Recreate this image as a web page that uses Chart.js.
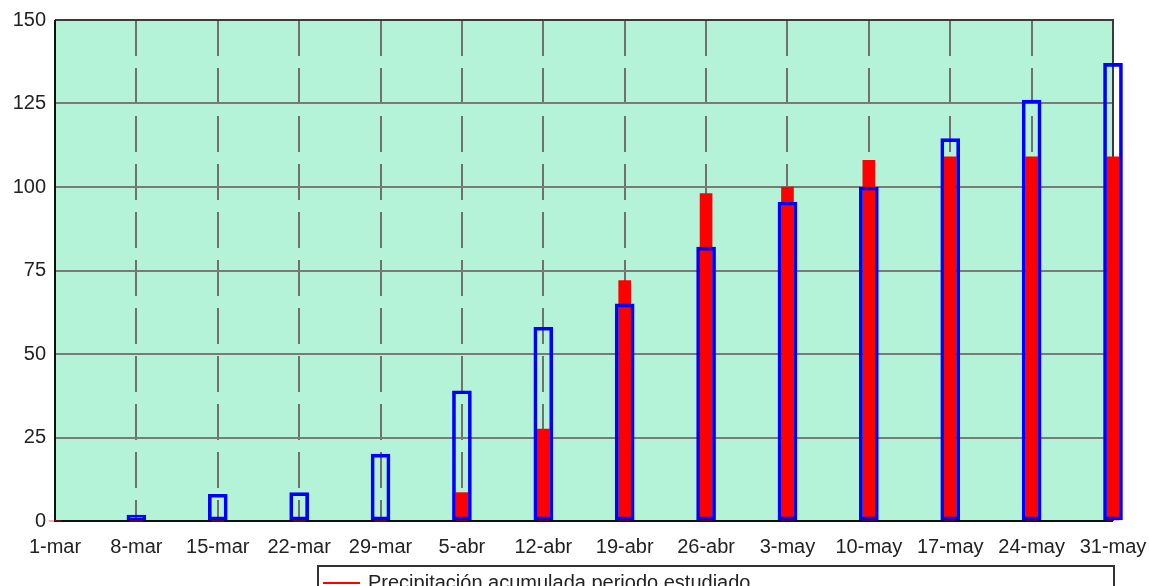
<!DOCTYPE html>
<html>
<head>
<meta charset="utf-8">
<script src="https://cdn.jsdelivr.net/npm/chart.js@4/dist/chart.umd.min.js"></script>
<style>
  body { margin: 0; background: #fff; overflow: hidden; }
  #wrap { position: relative; width: 1149px; height: 586px; overflow: hidden; }
  #legend {
    position: absolute; left: 317px; top: 565px; width: 794px; height: 60px;
    border: 2px solid #333; font-family: "Liberation Sans", Arial, sans-serif;
    font-size: 20px; color: #222;
  }
  .item { position: absolute; left: 0; white-space: nowrap; }
  .swatch { position: absolute; left: 4px; width: 37px; height: 2px; }
  .txt { position: absolute; left: 49px; }
</style>
</head>
<body>
<div id="wrap">
  <canvas id="chart" width="1149" height="586"></canvas>
  <div id="legend"></div>
</div>
<script>
const categories = ["1-mar", "8-mar", "15-mar", "22-mar", "29-mar", "5-abr", "12-abr",
  "19-abr", "26-abr", "3-may", "10-may", "17-may", "24-may", "31-may"];
const accumulated = [0, 0, 0, 0, 0, 8.5, 27.5, 72, 98, 100, 108, 109, 109, 109];
const average = [0, 1.8, 8, 8.5, 20, 39, 58, 65, 82, 95.5, 100, 114.5, 126, 137];
const yTicks = [0, 25, 50, 75, 100, 125, 150];

const labelAccumulated = "Precipitación acumulada periodo estudiado";
const labelAverage = "Precipitación media acumulada";

// plot background + frame
const framePlugin = {
  id: "frame",
  beforeDraw(chart) {
    const a = chart.chartArea, ctx = chart.ctx;
    ctx.save();
    ctx.fillStyle = "#b4f3d8";
    ctx.fillRect(a.left, a.top, a.right - a.left, a.bottom - a.top);
    ctx.restore();
  },
  beforeDatasetsDraw(chart) {
    const a = chart.chartArea, ctx = chart.ctx;
    ctx.save();
    ctx.lineWidth = 2;
    ctx.strokeStyle = "#3a3a3a";
    ctx.beginPath();
    ctx.moveTo(a.left, a.top);
    ctx.lineTo(a.right, a.top);
    ctx.lineTo(a.right, a.bottom);
    ctx.stroke();
    ctx.strokeStyle = "#111";
    ctx.beginPath();
    ctx.moveTo(a.left, a.top);
    ctx.lineTo(a.left, a.bottom);
    ctx.lineTo(a.right, a.bottom);
    ctx.stroke();
    ctx.restore();
  }
};

const font = { family: "'Liberation Sans', Arial, sans-serif", size: 20 };

const chart = new Chart(document.getElementById("chart"), {
  type: "bar",
  data: {
    labels: categories,
    datasets: [
      {
        label: labelAccumulated,
        data: accumulated,
        backgroundColor: "#ff0000",
        barThickness: 12,
        grouped: false,
        clip: false,
        order: 2
      },
      {
        label: labelAverage,
        data: average,
        backgroundColor: "rgba(0,0,0,0)",
        borderColor: "#0000ff",
        borderWidth: 3,
        borderSkipped: false,
        barThickness: 19,
        grouped: false,
        clip: false,
        order: 1
      }
    ]
  },
  options: {
    responsive: false,
    animation: false,
    layout: { padding: { top: 20, right: 36, left: 0, bottom: 0 } },
    plugins: { legend: { display: false }, tooltip: { enabled: false } },
    scales: {
      x: {
        offset: false,
        grid: { offset: false, color: "#707070", lineWidth: 2, drawTicks: false },
        border: { display: false, dash: [36, 12] },
        ticks: { color: "#222", font: font, padding: 14, maxRotation: 0, autoSkip: false },
        afterFit(scale) {
          scale.height = 65;
          scale.paddingLeft = 0;
          scale.paddingRight = 0;
        }
      },
      y: {
        min: 0,
        max: 150,
        afterBuildTicks(scale) { scale.ticks = yTicks.map(v => ({ value: v })); },
        grid: { color: "#7a7a7a", lineWidth: 2, drawTicks: false },
        border: { display: false },
        ticks: { color: "#222", font: font, padding: 9 },
        afterFit(scale) {
          scale.width = 55;
          scale.paddingTop = 0;
          scale.paddingBottom = 0;
        }
      }
    }
  },
  plugins: [framePlugin]
});

// legend from the datasets
const legend = document.getElementById("legend");
chart.data.datasets.forEach((ds, i) => {
  const item = document.createElement("div");
  item.className = "item";
  item.style.top = (4 + i * 26) + "px";
  const sw = document.createElement("div");
  sw.className = "swatch";
  sw.style.top = "11px";
  sw.style.background = ds.borderColor || ds.backgroundColor;
  const t = document.createElement("span");
  t.className = "txt";
  t.textContent = ds.label;
  item.appendChild(sw);
  item.appendChild(t);
  legend.appendChild(item);
});
</script>
</body>
</html>
